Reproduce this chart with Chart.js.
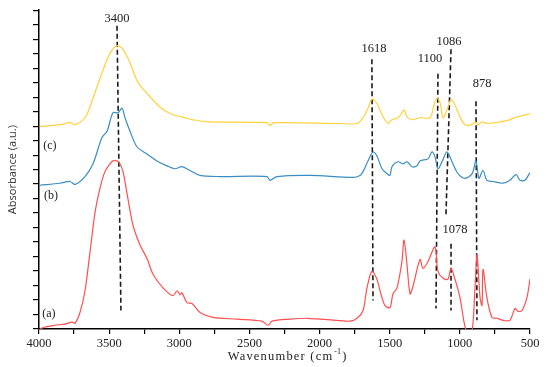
<!DOCTYPE html>
<html>
<head>
<meta charset="utf-8">
<script src="https://cdn.jsdelivr.net/npm/chart.js@4.4.1/dist/chart.umd.min.js"></script>
<style>
  html, body { margin: 0; padding: 0; background: #fff; }
  #wrap { width: 550px; height: 367px; }
</style>
</head>
<body>
<div id="wrap"><canvas id="ftir"></canvas></div>
<script>
/* spectrum (a) - red */
const redWn  = [3993, 3957, 3886, 3815, 3765, 3743, 3708, 3672, 3636, 3601, 3565, 3530, 3494, 3473, 3444, 3423, 3401, 3373, 3330, 3280, 3230, 3187, 3116, 3045, 3016, 2995, 2981, 2945, 2909, 2852, 2760, 2589, 2411, 2368, 2339, 2211, 2090, 1876, 1783, 1733, 1690, 1662, 1627, 1591, 1569, 1534, 1498, 1477, 1448, 1413, 1398, 1377, 1355, 1334, 1284, 1263, 1227, 1177, 1156, 1120, 1085, 1063, 1035, 999, 963, 942, 913, 892, 878, 856, 842, 835, 807, 771, 736, 693, 643, 607, 586, 557, 522, 500];
const redAbs = [0.00, 0.07, 0.13, 0.17, 0.24, 0.20, 0.57, 1.32, 2.67, 4.01, 4.86, 5.43, 5.70, 5.80, 5.80, 5.70, 5.43, 4.69, 3.58, 2.90, 2.43, 1.89, 1.42, 1.15, 1.32, 1.18, 1.25, 0.91, 0.88, 0.57, 0.40, 0.34, 0.27, 0.13, 0.27, 0.34, 0.37, 0.30, 0.27, 0.37, 0.64, 1.42, 1.99, 1.72, 1.32, 0.81, 0.74, 1.21, 1.42, 2.33, 3.07, 2.23, 1.21, 1.48, 2.40, 2.09, 2.33, 2.83, 1.99, 1.75, 1.72, 2.09, 1.72, 1.08, 0.07, -0.07, -0.07, 1.42, 2.56, 1.08, 0.81, 2.06, 1.08, 0.40, 0.37, 0.30, 0.30, 0.71, 0.61, 0.64, 1.08, 1.72];

/* spectrum (b) - blue */
const blueWn  = [3993, 3850, 3779, 3743, 3672, 3615, 3551, 3515, 3473, 3437, 3408, 3387, 3351, 3301, 3230, 3159, 3088, 3031, 2981, 2924, 2852, 2710, 2375, 2353, 2304, 2068, 1762, 1712, 1690, 1655, 1619, 1591, 1555, 1519, 1498, 1484, 1441, 1405, 1377, 1341, 1306, 1284, 1227, 1199, 1177, 1156, 1127, 1092, 1056, 1013, 963, 913, 885, 864, 835, 807, 764, 693, 643, 600, 571, 536, 500];
const blueAbs = [4.96, 5.03, 5.09, 4.99, 5.26, 5.70, 6.61, 6.82, 7.46, 7.46, 7.62, 7.29, 6.82, 6.28, 6.04, 5.80, 5.63, 5.53, 5.60, 5.47, 5.30, 5.26, 5.26, 5.13, 5.26, 5.30, 5.23, 5.30, 5.43, 5.80, 6.11, 5.97, 5.53, 5.36, 5.30, 5.60, 5.77, 5.70, 5.77, 5.60, 5.63, 5.80, 5.87, 6.11, 5.94, 5.53, 5.77, 6.11, 5.77, 5.36, 5.20, 5.36, 5.80, 5.20, 5.47, 5.13, 5.09, 5.03, 5.13, 5.33, 5.13, 5.13, 5.40];

/* spectrum (c) - yellow */
const yellowWn  = [3993, 3850, 3779, 3743, 3672, 3615, 3551, 3494, 3444, 3401, 3351, 3294, 3230, 3138, 3045, 2981, 2902, 2781, 2375, 2353, 2325, 1854, 1733, 1690, 1655, 1627, 1591, 1555, 1512, 1484, 1441, 1413, 1398, 1377, 1341, 1284, 1213, 1184, 1163, 1142, 1120, 1092, 1063, 1035, 999, 963, 913, 892, 871, 842, 807, 664, 593, 500];
const yellowAbs = [6.98, 7.05, 7.12, 7.05, 7.29, 7.96, 8.84, 9.51, 9.78, 9.65, 9.18, 8.50, 8.13, 7.66, 7.39, 7.32, 7.22, 7.15, 7.12, 7.02, 7.12, 7.09, 7.09, 7.29, 7.62, 7.93, 7.79, 7.39, 7.09, 7.22, 7.29, 7.46, 7.56, 7.32, 7.22, 7.29, 7.29, 7.73, 7.96, 7.83, 7.29, 7.56, 7.93, 7.73, 7.32, 7.05, 7.05, 7.15, 7.05, 7.15, 7.09, 7.19, 7.32, 7.42];

/* dashed peak markers: top and bottom ends */
const markerTopWn     = [3444, 1627, 1156, 1063, 885, 1063];
const markerTopAbs    = [10.46, 9.31, 8.81, 9.65, 7.86, 2.94];
const markerBottomWn  = [3416, 1619, 1170, 1099, 878, 1063];
const markerBottomAbs = [0.64, 0.98, 0.71, 3.95, 0.30, 0.64];

/* peak labels */
const peakLabels   = ['3400', '1618', '1100', '1086', '878', '1078'];
const peakLabelWn  = [3444, 1612, 1213, 1078, 842, 1035];
const peakLabelAbs = [10.69, 9.68, 9.31, 9.92, 8.47, 3.44];

/* curve tags */
const curveTags   = ['(a)', '(b)', '(c)'];
const curveTagWn  = [3929, 3914, 3922];
const curveTagAbs = [0.51, 4.59, 6.31];

const serif = '"Liberation Serif", "DejaVu Serif", serif';

function toPoints(xs, ys) {
  return xs.map((x, i) => ({ x: x, y: ys[i] }));
}

const spectra = [
  { label: '(a)', data: toPoints(redWn, redAbs), color: '#ff4f4f' },
  { label: '(b)', data: toPoints(blueWn, blueAbs), color: '#3a8dc0' },
  { label: '(c)', data: toPoints(yellowWn, yellowAbs), color: '#ffd23c' }
];

const datasets = spectra.map(s => ({
  label: s.label,
  data: s.data,
  borderColor: s.color,
  borderWidth: 1.2,
  pointRadius: 0,
  tension: 0.3,
  fill: false
}));

markerTopWn.forEach((wn, i) => {
  datasets.push({
    label: 'marker ' + peakLabels[i],
    data: [{ x: wn, y: markerTopAbs[i] }, { x: markerBottomWn[i], y: markerBottomAbs[i] }],
    borderColor: '#1a1a1a',
    borderWidth: 1.6,
    borderDash: [5, 3],
    pointRadius: 0,
    tension: 0
  });
});

/* text annotations drawn at data coordinates */
const annotationText = {
  id: 'annotationText',
  afterDatasetsDraw(chart) {
    const { ctx, scales: { x, y }, chartArea } = chart;
    ctx.save();
    ctx.fillStyle = '#222';
    ctx.textAlign = 'center';
    ctx.textBaseline = 'middle';
    ctx.font = '12.5px ' + serif;
    peakLabels.forEach((t, i) => {
      ctx.fillText(t, x.getPixelForValue(peakLabelWn[i]), y.getPixelForValue(peakLabelAbs[i]));
    });
    ctx.font = '12px ' + serif;
    curveTags.forEach((t, i) => {
      ctx.fillText(t, x.getPixelForValue(curveTagWn[i]), y.getPixelForValue(curveTagAbs[i]));
    });
    // x axis title, letter spaced
    ctx.font = '12.5px ' + serif;
    ctx.letterSpacing = '1.2px';
    ctx.fillText('Wavenumber (cm', (chartArea.left + chartArea.right) / 2 - 4, 357);
    const w = ctx.measureText('Wavenumber (cm').width;
    const cx = (chartArea.left + chartArea.right) / 2 - 4 + w / 2;
    ctx.textAlign = 'left';
    ctx.font = '8px ' + serif;
    ctx.letterSpacing = '0px';
    ctx.fillText('-1', cx + 1, 352);
    ctx.font = '12.5px ' + serif;
    ctx.fillText(')', cx + 9, 357);
    ctx.restore();
  }
};

new Chart(document.getElementById('ftir'), {
  type: 'line',
  data: { datasets: datasets },
  options: {
    responsive: true,
    maintainAspectRatio: false,
    animation: false,
    layout: { padding: { top: 3, right: 20, left: 0, bottom: 0 } },
    plugins: { legend: { display: false }, tooltip: { enabled: false } },
    scales: {
      x: {
        type: 'linear',
        reverse: true,
        min: 500,
        max: 4000,
        border: { display: true, color: '#000', width: 1.5 },
        grid: { drawOnChartArea: false, drawTicks: true, tickLength: 5, color: '#000', lineWidth: 1.2 },
        ticks: {
          stepSize: 250,
          autoSkip: false,
          maxRotation: 0,
          padding: 2,
          color: '#222',
          font: { family: serif, size: 12.5 },
          callback: v => (v % 500 === 0 ? String(v) : '')
        },
        afterFit: s => { s.height = 38; }
      },
      y: {
        min: 0,
        max: 11,
        border: { display: true, color: '#000', width: 1.5 },
        grid: { drawOnChartArea: false, drawTicks: true, tickLength: 6, color: '#000', lineWidth: 1.2 },
        ticks: { stepSize: 0.5, autoSkip: false, callback: () => '' },
        title: {
          display: true,
          text: 'Absorbance (a.u.)',
          color: '#333',
          font: { family: '"Open Sans", sans-serif', size: 11 },
          padding: { top: 6, bottom: 0 }
        },
        afterFit: s => { s.width = 39; }
      }
    }
  },
  plugins: [annotationText]
});
</script>
</body>
</html>
